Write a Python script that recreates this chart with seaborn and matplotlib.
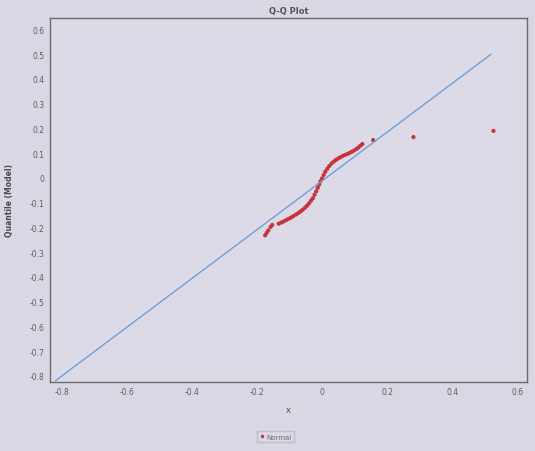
import matplotlib
matplotlib.use("Agg")
import matplotlib.pyplot as plt
from matplotlib.lines import Line2D
import seaborn as sns
import pandas as pd

# Q-Q points (x = sample quantile, y = model quantile)
qx = [-0.175, -0.170, -0.165, -0.158, -0.153,
      -0.133, -0.125, -0.118, -0.110, -0.102, -0.095, -0.088, -0.080, -0.073,
      -0.066, -0.059, -0.052, -0.046, -0.040, -0.034, -0.028, -0.023, -0.018,
      -0.013, -0.009, -0.005, 0.000, 0.005, 0.010, 0.016, 0.022, 0.029, 0.036,
      0.043, 0.050, 0.057, 0.064, 0.071, 0.078, 0.085, 0.092, 0.099, 0.106,
      0.112, 0.118, 0.124, 0.157, 0.281, 0.527]
qy = [-0.232, -0.222, -0.212, -0.198, -0.190,
      -0.185, -0.180, -0.176, -0.170, -0.165, -0.160, -0.154, -0.148, -0.142,
      -0.135, -0.128, -0.120, -0.112, -0.103, -0.092, -0.082, -0.068, -0.054,
      -0.040, -0.027, -0.014, -0.002, 0.012, 0.025, 0.037, 0.048, 0.058, 0.066,
      0.073, 0.079, 0.084, 0.089, 0.093, 0.097, 0.101, 0.106, 0.111, 0.117,
      0.123, 0.130, 0.137, 0.153, 0.165, 0.190]

# reference line
line_x = [-0.82, 0.52]
line_y = [-0.82, 0.50]

xticks = [-0.8, -0.6, -0.4, -0.2, 0, 0.2, 0.4, 0.6]
xticklabels = ["-0.8", "-0.6", "-0.4", "-0.2", "0", "0.2", "0.4", "0.6"]
yticks = [0.6, 0.5, 0.4, 0.3, 0.2, 0.1, 0, -0.1, -0.2, -0.3, -0.4, -0.5, -0.6, -0.7, -0.8]
yticklabels = ["0.6", "0.5", "0.4", "0.3", "0.2", "0.1", "0", "-0.1", "-0.2", "-0.3",
               "-0.4", "-0.5", "-0.6", "-0.7", "-0.8"]

sns.set_style("white")
plt.rcParams['font.family'] = ['DejaVu Sans']

bg = "#dad7e5"
fig = plt.figure(figsize=(5.35, 4.52), dpi=100, facecolor=bg)
ax = fig.add_axes([0.093, 0.153, 0.892, 0.806])
ax.set_facecolor("#dddae8")

df_pts = pd.DataFrame({"x": qx, "y": qy})
df_line = pd.DataFrame({"x": line_x, "y": line_y})

sns.lineplot(data=df_line, x="x", y="y", ax=ax, color="#6e9fd2", linewidth=1.0)
sns.scatterplot(data=df_pts, x="x", y="y", ax=ax, color="#c8333b", s=9,
                edgecolor="none", legend=False)

ax.set_xlim(-0.837, 0.63)
ax.set_ylim(-0.824, 0.648)
ax.set_xticks(xticks)
ax.set_xticklabels(xticklabels)
ax.set_yticks(yticks)
ax.set_yticklabels(yticklabels)
ax.tick_params(axis="both", labelsize=5.5, colors="#5f5d66", length=0, pad=4)
for sp in ax.spines.values():
    sp.set_color("#6a6a6a")
    sp.set_linewidth(1.0)

ax.set_title("Q-Q Plot", fontsize=6, fontweight="bold", color="#555358", pad=3)
ax.set_xlabel("x", fontsize=6, color="#555358", labelpad=6)
ax.set_ylabel("Quantile (Model)", fontsize=5.5, fontweight="bold", color="#4a4850", labelpad=11)

h = Line2D([], [], linestyle="none", marker="o", markersize=2.5,
           markerfacecolor="#c8333b", markeredgecolor="none")
leg = fig.legend([h], ["Normal"], loc="center", bbox_to_anchor=(0.515, 0.032),
                 fontsize=5, frameon=True, handletextpad=0.2,
                 borderpad=0.4, handlelength=0.8, fancybox=False)
leg.get_frame().set_edgecolor("#b8b5c0")
leg.get_frame().set_facecolor("#dddae8")
for t in leg.get_texts():
    t.set_color("#6a6870")

fig.savefig("out.png", dpi=100, facecolor=bg)
